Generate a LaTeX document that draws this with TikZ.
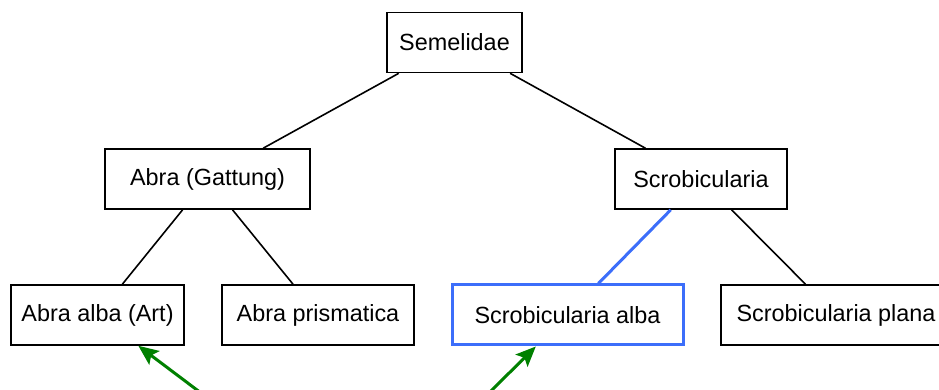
\documentclass[tikz,border=0pt]{standalone}
\usepackage{fontspec}
\setmainfont{Liberation Sans}
\usetikzlibrary{arrows.meta}
\definecolor{selblue}{RGB}{60,110,250}
\definecolor{arrgreen}{RGB}{0,128,0}
\begin{document}
\begin{tikzpicture}[x=1pt,y=1pt,
  box/.style={draw=black,line width=1.6pt,fill=white,inner sep=0pt,minimum height=60pt,
    font=\fontsize{23.4}{28}\selectfont},
  sel/.style={box,draw=selblue,line width=3pt},
  edge/.style={draw=black,line width=1.6pt},
  seledge/.style={draw=selblue,line width=3pt},
  ptr/.style={draw=arrgreen,line width=3pt,-{Stealth[length=20pt,width=17pt,inset=4pt]},fill=arrgreen}]
\useasboundingbox (0,0) rectangle (939,390);
\clip (0,0) rectangle (939,390);
\node[box,minimum width=135pt] (sem) at (454.5,347.5) {Semelidae};
\node[box,minimum width=205pt] (abra) at (207.5,211) {Abra (Gattung)};
\node[box,minimum width=172pt] (scr) at (701,211) {Scrobicularia};
\node[box,minimum width=173pt] (aa) at (97.5,75) {Abra alba (Art)};
\node[box,minimum width=192pt] (ap) at (318,75) {Abra prismatica};
\node[sel,minimum width=231pt] (sa) at (567.5,75) {Scrobicularia alba};
\node[box,minimum width=230pt] (sp) at (836,75) {Scrobicularia plana};
\draw[edge] (sem) -- (abra);
\draw[edge] (sem) -- (scr);
\draw[edge] (abra) -- (aa);
\draw[edge] (abra) -- (ap);
\draw[seledge] (scr) -- (sa);
\draw[edge] (scr) -- (sp);
\coordinate (src1) at (226.9,-22.5);
\coordinate (src2) at (469.35,-22.5);
\draw[ptr] (src1) -- (aa);
\draw[ptr] (src2) -- (sa);
\end{tikzpicture}
\end{document}
